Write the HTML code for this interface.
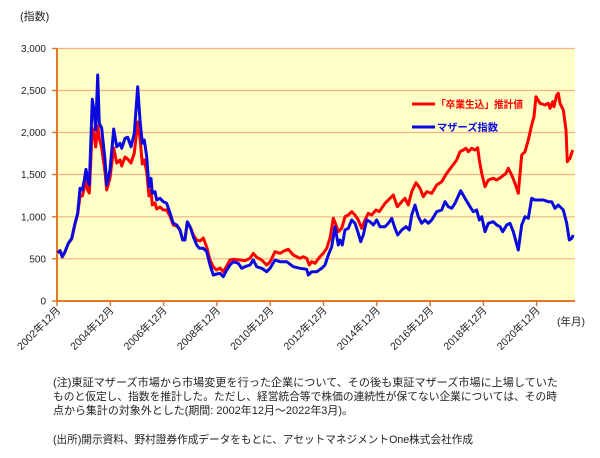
<!DOCTYPE html>
<html><head><meta charset="utf-8">
<style>
html,body{margin:0;padding:0;background:#fff;}
svg{display:block;}
text{font-family:"Liberation Sans","Noto Sans CJK JP",sans-serif;}
</style></head>
<body>
<svg width="600" height="458" viewBox="0 0 600 458" xmlns="http://www.w3.org/2000/svg">
<rect x="0" y="0" width="600" height="458" fill="#fff"/>
<!-- plot area -->
<rect x="57" y="48" width="518" height="253" fill="#ffffc8"/>
<g stroke="#f4b285" stroke-width="1.2">
<line x1="57" y1="48.5" x2="575" y2="48.5"/>
<line x1="57" y1="90.5" x2="575" y2="90.5"/>
<line x1="57" y1="132.5" x2="575" y2="132.5"/>
<line x1="57" y1="174.5" x2="575" y2="174.5"/>
<line x1="57" y1="216.8" x2="575" y2="216.8"/>
<line x1="57" y1="258.8" x2="575" y2="258.8"/>
</g>
<!-- axes -->
<g stroke="#e07a2a" stroke-width="2">
<line x1="57" y1="48" x2="57" y2="302"/>
<line x1="56" y1="301" x2="575" y2="301"/>
</g>
<g stroke="#e07a2a" stroke-width="1.5">
<line x1="52" y1="48.5" x2="57" y2="48.5"/>
<line x1="52" y1="90.5" x2="57" y2="90.5"/>
<line x1="52" y1="132.5" x2="57" y2="132.5"/>
<line x1="52" y1="174.5" x2="57" y2="174.5"/>
<line x1="52" y1="216.8" x2="57" y2="216.8"/>
<line x1="52" y1="258.8" x2="57" y2="258.8"/>
<line x1="52" y1="301" x2="57" y2="301"/>
<line x1="57" y1="301" x2="57" y2="306"/>
<line x1="110.3" y1="301" x2="110.3" y2="306"/>
<line x1="163.6" y1="301" x2="163.6" y2="306"/>
<line x1="216.9" y1="301" x2="216.9" y2="306"/>
<line x1="270.2" y1="301" x2="270.2" y2="306"/>
<line x1="323.5" y1="301" x2="323.5" y2="306"/>
<line x1="376.8" y1="301" x2="376.8" y2="306"/>
<line x1="430.1" y1="301" x2="430.1" y2="306"/>
<line x1="483.4" y1="301" x2="483.4" y2="306"/>
<line x1="536.7" y1="301" x2="536.7" y2="306"/>
</g>
<!-- y labels -->
<g font-size="10" fill="#222" text-anchor="end">
<text x="46" y="52">3,000</text>
<text x="46" y="94">2,500</text>
<text x="46" y="136">2,000</text>
<text x="46" y="178">1,500</text>
<text x="46" y="220.5">1,000</text>
<text x="46" y="262.5">500</text>
<text x="46" y="304.5">0</text>
</g>
<text x="20" y="20" font-size="11" fill="#222">(指数)</text>
<!-- x labels -->
<g font-size="10.5" fill="#222" text-anchor="end">
<text transform="translate(61,311) rotate(-45)">2002年12月</text>
<text transform="translate(114.3,311) rotate(-45)">2004年12月</text>
<text transform="translate(167.6,311) rotate(-45)">2006年12月</text>
<text transform="translate(220.9,311) rotate(-45)">2008年12月</text>
<text transform="translate(274.2,311) rotate(-45)">2010年12月</text>
<text transform="translate(327.5,311) rotate(-45)">2012年12月</text>
<text transform="translate(380.8,311) rotate(-45)">2014年12月</text>
<text transform="translate(434.1,311) rotate(-45)">2016年12月</text>
<text transform="translate(487.4,311) rotate(-45)">2018年12月</text>
<text transform="translate(540.7,311) rotate(-45)">2020年12月</text>
</g>
<text x="557" y="325" font-size="10.5" fill="#222">(年月)</text>
<!-- series -->
<polyline fill="none" stroke="#ff0000" stroke-width="3" stroke-linejoin="round" points="57.7,252.7 60,250.7 62.3,257 65,252 68.3,243.5 71.7,239 75,224 77.7,214 80,196 82.3,196 84.3,188 86,178 87.7,190 89.3,193 92.3,128 94.3,135 95.7,147 97.7,126 99.3,138 101.7,148 105,172 106.7,190 110,178 113.7,148 116.7,163 120,160 121.7,166 125,157 127.7,159 131,163 134.3,153 137.7,122 140,138 142.3,164 144.3,160 146.7,172 149,196 151,190 152.3,205 155,203 156.7,209 160,207 163.3,210 166.7,210 170,216 173.3,225 176.7,226 180,230 182.7,240 185,239 187.3,222 190.7,228 193.3,235 196.7,240 200,241 203.3,238 206.7,247 210,260 213.3,267 216.7,270 220,268 223.3,271.7 226.7,266 230,260 233.3,259.3 240,260 245,260.7 250,258.3 253.3,253.3 256.7,257.3 261.7,260 266.7,265 270,262 275,251.7 280,253.3 284,251 288.3,249.3 293.3,255 300,258.3 303.3,256.7 306.7,258.3 309.3,265 311.7,261.7 315,263.3 320,256.7 323.3,253.3 326.7,248.3 330,238.3 333.3,218.3 336,225 338.3,231.7 341.7,228.3 345,216.7 348.3,215 351.7,211.7 355,215 358.3,220 361.7,228.3 365,220 368.3,213.3 371.7,215 376,210 379.3,211.7 385,203.3 390,198.3 393.3,195 397.3,206.7 401.7,201.7 405,198.3 408.3,205 411.7,191.7 416,182.7 420,188.3 423.3,196.7 426.7,191.7 431.7,193.3 436.7,185 441.7,181.7 446.7,173.3 451.7,166.7 456.7,160 460,151.7 463.3,150 466,148.3 468.3,151.7 471.7,148.3 475,150 477.7,147.7 479.3,160 481.7,173.3 485,186.7 488.3,180 493.3,178.3 496.7,180 501.7,176.7 506,173.3 508.3,168.3 511.7,175 515,183.3 518.3,193.3 521.7,155 525,151.7 528.3,140 531.7,125 534,116.7 536,96.7 540,103.3 545,105 548.3,103.3 550,108.3 552.7,101.7 554,106.7 556.7,95 558.3,93.3 560,103.3 563.3,110 566,130 567.3,161.7 570,158.3 572.7,150"/>
<polyline fill="none" stroke="#0a0ae0" stroke-width="3" stroke-linejoin="round" points="57.7,252.7 60,250.7 62.3,256.7 65,251.7 68.3,243.3 71.7,238.3 75,223.3 77.7,213.3 80,188.3 82.3,190 84.3,180 86,169.3 87.7,180 89.3,185 92.3,99.3 94.3,113.3 95.7,130 97.7,75 99.3,123.3 101.7,128.3 105,160 106.7,185 110,170 113.7,129 116.7,146.7 120,143.3 121.7,148.3 125,138.3 127.7,137.3 131,146.7 134.3,133.3 137.7,86.7 140,120 142.3,143.3 144.3,140 146.7,156.7 149,186.7 151,178.3 152.3,193.3 155,191.7 156.7,200 160,198.3 163.3,201.7 166.7,203.3 170,213 173.3,223.3 176.7,225 180,230 182.7,240 185,240 187.3,221.7 190.7,228.3 193.3,236.7 196.7,245 199.3,248.3 203.3,248.3 206.7,251.7 210,265 213.3,275 216.7,274 220,273.3 223.3,276.7 226.7,270 230,265 233.3,261.7 238.3,263.3 241.7,268.3 245,266.7 250,265 253.3,260 256.7,266.7 261.7,268.3 266.7,271.7 270,268.3 275,260 280,261.7 286.7,261.7 293.3,266.7 300,268.3 306.7,269.3 308.3,275 311.7,271.7 316.7,271.7 321.7,268.3 325,265 328.3,255 331.7,246.7 335,226.7 338.3,245 340,240 342.3,245 345,230 348.3,228.3 351.7,220 355,223.3 358.3,233.3 360.7,241.7 363.3,235 366.7,220 370,221.7 373.3,225 376.7,220 380,226.7 385,226.7 388.3,223.3 391.7,218.3 395,228.3 397.7,235 401.7,230 406,226.7 409.3,230 411.7,215 415,205 418.3,216.7 421.7,223.3 425,220 428.3,223.3 431.7,220 436.7,211.7 441.7,210 445,201.7 448.3,206.7 451.7,208.3 455,203.3 460.7,190.7 465,198.3 470,206.7 473.3,211.7 476.7,210 479.3,220 481.7,216.7 485,231.7 488.3,223.3 493.3,221.7 496.7,225 500,226.7 502.7,231.7 506.7,225 510,223.3 513.3,231.7 518.3,250 521.7,225 525,216.7 528.3,218.3 531.7,198.3 535,200 538.3,200 543.3,200 548.3,201.7 551.7,201.7 555,208.3 558.3,205 563.3,210 566.7,223.3 569.3,240 571.7,238.3 573.3,235"/>
<!-- legend -->
<line x1="412" y1="104" x2="435" y2="104" stroke="#ff0000" stroke-width="3"/>
<text x="436" y="108" font-size="10" font-weight="bold" fill="#ff0000" textLength="87" lengthAdjust="spacingAndGlyphs">「卒業生込」推計値</text>
<line x1="412" y1="127" x2="435" y2="127" stroke="#0a0ae0" stroke-width="3"/>
<text x="437" y="131" font-size="10" font-weight="bold" fill="#0a0ae0" textLength="61" lengthAdjust="spacingAndGlyphs">マザーズ指数</text>
<!-- notes -->
<g font-size="11" fill="#222">
<text x="53" y="386" textLength="505" lengthAdjust="spacingAndGlyphs">(注)東証マザーズ市場から市場変更を行った企業について、その後も東証マザーズ市場に上場していた</text>
<text x="53" y="400" textLength="504" lengthAdjust="spacingAndGlyphs">ものと仮定し、指数を推計した。ただし、経営統合等で株価の連続性が保てない企業については、その時</text>
<text x="53" y="414" textLength="300" lengthAdjust="spacingAndGlyphs">点から集計の対象外とした(期間: 2002年12月～2022年3月)。</text>
<text x="53" y="443" textLength="420" lengthAdjust="spacingAndGlyphs">(出所)開示資料、野村證券作成データをもとに、アセットマネジメントOne株式会社作成</text>
</g>
</svg>
</body></html>
